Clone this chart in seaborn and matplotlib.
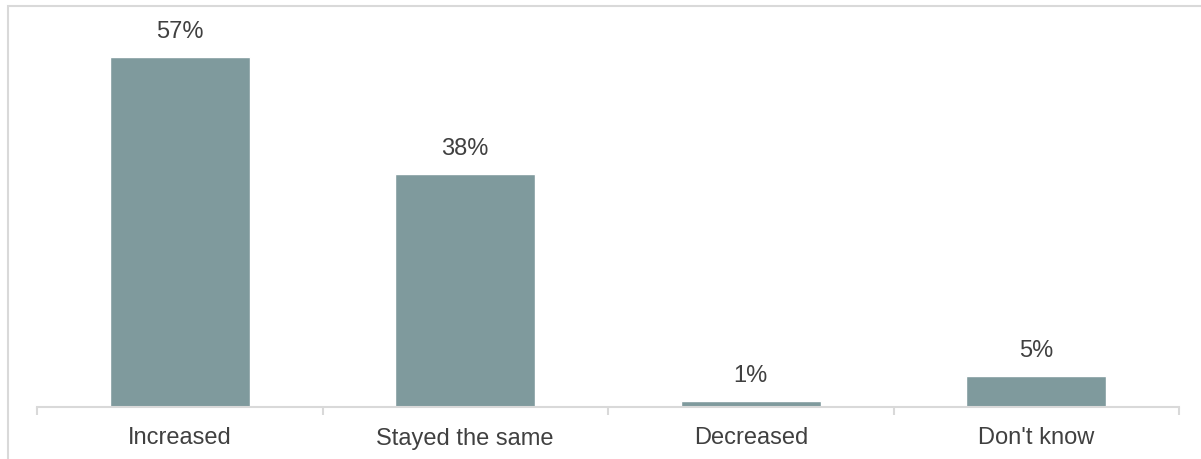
import matplotlib
matplotlib.use("Agg")
import matplotlib.pyplot as plt
import seaborn as sns
import pandas as pd
from matplotlib.patches import Rectangle

# Survey responses
categories = ["Increased", "Stayed the same", "Decreased", "Don't know"]
shares = [57, 38, 1, 5]

BAR_COLOR = "#7f9a9d"
TEXT_COLOR = "#404040"
LINE_COLOR = "#d9d9d9"

sns.set_theme(style="white")
plt.rcParams["font.family"] = ["Liberation Sans", "DejaVu Sans"]

df = pd.DataFrame({"category": categories, "share": shares})

W, H = 1201, 459
fig = plt.figure(figsize=(W / 100, H / 100), dpi=100)
ax = fig.add_axes([37 / W, 52 / H, 1142 / W, 0.8026])

sns.barplot(data=df, x="category", y="share", color=BAR_COLOR,
            saturation=1, width=0.49, ax=ax)

ax.set_xlim(-0.5, len(categories) - 0.5)
ax.set_ylim(0, 60)

for i, v in enumerate(shares):
    ax.annotate(f"{v}%", (i, v), xytext=(0, 10), textcoords="offset points",
                ha="center", va="bottom", fontsize=17, color=TEXT_COLOR)

ax.set_xlabel("")
ax.set_ylabel("")
ax.set_yticks([])
for s in ["top", "right", "left"]:
    ax.spines[s].set_visible(False)
ax.spines["bottom"].set_color(LINE_COLOR)
ax.spines["bottom"].set_linewidth(1.5)

# Category labels centered under bars, sharing one baseline
ax.set_xticks(range(len(categories)))
ax.set_xticklabels(categories)
ax.tick_params(axis="x", which="major", length=0, labelsize=17,
               labelcolor=TEXT_COLOR, pad=27)
for lbl in ax.get_xticklabels():
    lbl.set_verticalalignment("baseline")

# Tick marks on the category boundaries
ax.set_xticks([i - 0.5 for i in range(len(categories) + 1)], minor=True)
ax.tick_params(axis="x", which="minor", length=6, width=1.5,
               color=LINE_COLOR, bottom=True)

# Outer frame around the chart area
fig.patches.append(Rectangle((7.5 / W, -0.1), 1.2, 1 - 6.5 / H + 0.1,
                             transform=fig.transFigure, fill=False,
                             edgecolor=LINE_COLOR, linewidth=1.5))

fig.savefig("out.png", dpi=100)
